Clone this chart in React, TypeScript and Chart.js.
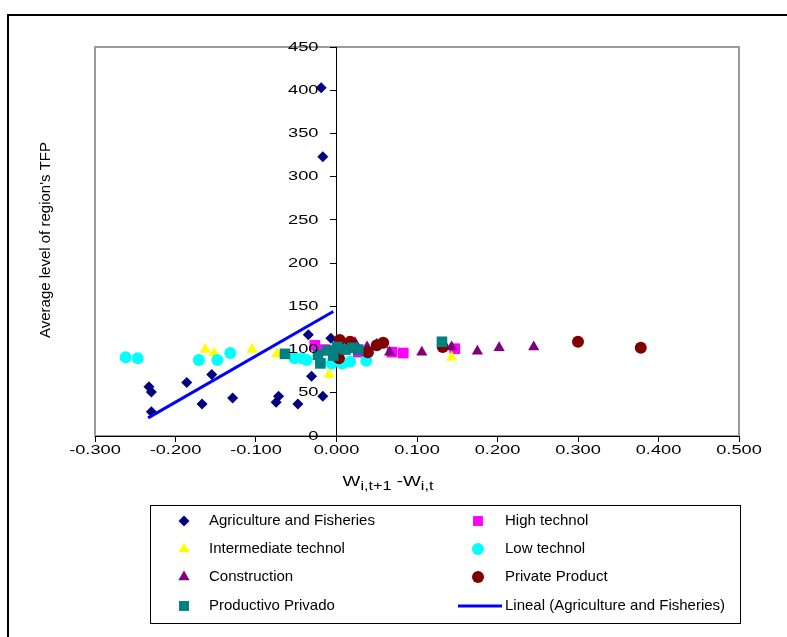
import React, { useEffect, useRef } from 'react';
import { Chart, registerables } from 'chart.js';

Chart.register(...registerables);

const W = 787;
const H = 637;
const FONT = "'Liberation Sans', Arial, sans-serif";
const STRETCH = 1.35; // horizontal stretch of the reference's axis lettering

// ---- data ----
const agriX = [-0.019, -0.017, -0.233, -0.230, -0.186, -0.155, -0.167, -0.230, -0.129, -0.072, -0.075, -0.048, -0.031, -0.017, -0.035, -0.007];
const agriY = [403, 323, 57, 51, 62, 71, 37, 28, 44, 46, 39, 37, 69, 46, 117, 113];

const highX = [-0.027, -0.014, 0.027, 0.069, 0.083, 0.147];
const highY = [105, 100, 97, 97, 96, 101];

const interX = [-0.163, -0.152, -0.105, -0.074, -0.040, -0.009, 0.143];
const interY = [100, 96, 100, 95, 87, 71, 91];

const lowX = [-0.262, -0.247, -0.171, -0.148, -0.132, -0.052, -0.043, -0.037, -0.006, 0.007, 0.017, 0.037];
const lowY = [91, 90, 88, 88, 96, 90, 90, 88, 84, 84, 86, 87];

const constX = [0.023, 0.038, 0.050, 0.066, 0.106, 0.143, 0.175, 0.202, 0.245];
const constY = [108, 103, 106, 97, 97, 103, 98, 102, 103];

const privX = [0.003, 0.004, 0.017, 0.039, 0.050, 0.058, 0.132, 0.300, 0.378];
const privY = [90, 111, 109, 97, 105, 108, 103, 109, 102];

const prodX = [-0.064, -0.023, -0.020, -0.011, -0.004, 0.001, 0.011, 0.020, 0.027, 0.131];
const prodY = [95, 94, 84, 99, 93, 103, 100, 102, 100, 109];

const trendX = [-0.234, -0.004];
const trendY = [21, 144];

const xTicks = { min: -0.3, max: 0.5, step: 0.1 };
const yTicks = { min: 0, max: 450, step: 50 };

const yTitle = "Average level of region's TFP";

const legendOrder = [
  'Agriculture and Fisheries',
  'High technol',
  'Intermediate technol',
  'Low technol',
  'Construction',
  'Private Product',
  'Productivo Privado',
  'Lineal (Agriculture and Fisheries)',
];

const pts = (xs: number[], ys: number[]) => xs.map((x, i) => ({ x, y: ys[i] }));

function drawMarker(ctx: CanvasRenderingContext2D, shape: string, x: number, y: number, r: number, color: string) {
  ctx.save();
  ctx.fillStyle = color;
  ctx.beginPath();
  if (shape === 'rectRot') {
    ctx.moveTo(x, y - r);
    ctx.lineTo(x + r, y);
    ctx.lineTo(x, y + r);
    ctx.lineTo(x - r, y);
    ctx.closePath();
  } else if (shape === 'rect') {
    const s = r * Math.SQRT1_2;
    ctx.rect(x - s, y - s, 2 * s, 2 * s);
  } else if (shape === 'triangle') {
    let a = 0;
    ctx.moveTo(x + Math.sin(a) * r, y - Math.cos(a) * r);
    a += (2 * Math.PI) / 3;
    ctx.lineTo(x + Math.sin(a) * r, y - Math.cos(a) * r);
    a += (2 * Math.PI) / 3;
    ctx.lineTo(x + Math.sin(a) * r, y - Math.cos(a) * r);
    ctx.closePath();
  } else {
    ctx.arc(x, y, r, 0, Math.PI * 2);
  }
  ctx.fill();
  ctx.restore();
}

function stretchedText(ctx: CanvasRenderingContext2D, text: string, x: number, y: number, align: CanvasTextAlign, baseline: CanvasTextBaseline) {
  ctx.save();
  ctx.translate(x, y);
  ctx.scale(STRETCH, 1);
  ctx.textAlign = align;
  ctx.textBaseline = baseline;
  ctx.fillText(text, 0, 0);
  ctx.restore();
}

const framePlugin = {
  id: 'framePlugin',
  beforeDraw(chart: any) {
    const ctx = chart.ctx as CanvasRenderingContext2D;
    const a = chart.chartArea;
    ctx.save();
    ctx.fillStyle = '#ffffff';
    ctx.fillRect(0, 0, chart.width, chart.height);
    // outer frame
    ctx.strokeStyle = '#000000';
    ctx.lineWidth = 2;
    ctx.beginPath();
    ctx.moveTo(8, H + 5);
    ctx.lineTo(8, 15);
    ctx.lineTo(W + 5, 15);
    ctx.stroke();
    // plot area border
    ctx.strokeStyle = '#9a9a9a';
    ctx.lineWidth = 2;
    ctx.strokeRect(a.left, a.top, a.right - a.left, a.bottom - a.top);
    ctx.restore();
  },
  afterDraw(chart: any) {
    const ctx = chart.ctx as CanvasRenderingContext2D;
    const a = chart.chartArea;
    const xs = chart.scales.x;
    const ys = chart.scales.y;
    ctx.save();
    ctx.fillStyle = '#000000';

    // tick labels (from the library's scales)
    ctx.font = `13.5px ${FONT}`;
    const yAxisX = xs.getPixelForValue(0);
    ys.ticks.forEach((t: any) => {
      stretchedText(ctx, String(t.value), yAxisX - 18, ys.getPixelForValue(t.value), 'right', 'middle');
    });
    const xAxisY = ys.getPixelForValue(0);
    xs.ticks.forEach((t: any) => {
      stretchedText(ctx, Number(t.value).toFixed(3), xs.getPixelForValue(t.value), xAxisY + 8, 'center', 'top');
    });

    // y title
    ctx.font = `15px ${FONT}`;
    ctx.save();
    ctx.textAlign = 'center';
    ctx.textBaseline = 'middle';
    ctx.translate(46, 240);
    ctx.rotate(-Math.PI / 2);
    ctx.fillText(yTitle, 0, 0);
    ctx.restore();

    // x title with subscripts
    const parts: [string, boolean][] = [['W', false], ['i,t+1', true], [' -W', false], ['i,t', true]];
    const big = `14px ${FONT}`;
    const small = `12px ${FONT}`;
    let total = 0;
    for (const [t, sub] of parts) {
      ctx.font = sub ? small : big;
      total += ctx.measureText(t).width * STRETCH;
    }
    let x = 388 - total / 2;
    const base = 486;
    for (const [t, sub] of parts) {
      ctx.font = sub ? small : big;
      stretchedText(ctx, t, x, sub ? base + 4 : base, 'left', 'alphabetic');
      x += ctx.measureText(t).width * STRETCH;
    }

    // legend
    const box = { x: 150, y: 505, w: 590, h: 118 };
    ctx.strokeStyle = '#000000';
    ctx.lineWidth = 1;
    ctx.strokeRect(box.x + 0.5, box.y + 0.5, box.w, box.h);
    const colMarker = [184, 478];
    const colText = [209, 505];
    const rowY = [521, 549, 577, 606];
    ctx.font = `15px ${FONT}`;
    ctx.textBaseline = 'middle';
    ctx.textAlign = 'left';
    legendOrder.forEach((label, i) => {
      const ds = chart.data.datasets.find((d: any) => d.label === label);
      if (!ds) return;
      const col = i % 2;
      const row = Math.floor(i / 2);
      const y = rowY[row];
      if (ds.showLine) {
        ctx.strokeStyle = ds.borderColor;
        ctx.lineWidth = ds.borderWidth;
        ctx.beginPath();
        ctx.moveTo(colMarker[col] - 20, y);
        ctx.lineTo(colText[col] - 3, y);
        ctx.stroke();
      } else {
        drawMarker(ctx, ds.pointStyle, colMarker[col], y, ds.legendRadius, ds.backgroundColor);
      }
      ctx.fillStyle = '#000000';
      ctx.fillText(label, colText[col], y);
    });
    ctx.restore();
  },
};

export default function App() {
  const ref = useRef<HTMLCanvasElement | null>(null);

  useEffect(() => {
    if (!ref.current) return;
    const mk = (label: string, xs: number[], ys: number[], color: string, style: string, r: number, lr: number, order: number) => ({
      label,
      data: pts(xs, ys),
      backgroundColor: color,
      borderColor: color,
      borderWidth: 0,
      pointStyle: style,
      pointRadius: r,
      pointHoverRadius: r,
      showLine: false,
      legendRadius: lr,
      order,
    });
    const chart = new Chart(ref.current, {
      type: 'scatter',
      data: {
        datasets: [
          mk('Agriculture and Fisheries', agriX, agriY, '#000080', 'rectRot', 5.5, 5.5, 7),
          mk('High technol', highX, highY, '#FF00FF', 'rect', 7.5, 7, 6),
          mk('Intermediate technol', interX, interY, '#FFFF00', 'triangle', 6.5, 6.5, 5),
          mk('Low technol', lowX, lowY, '#00FFFF', 'circle', 6, 6, 4),
          mk('Construction', constX, constY, '#800080', 'triangle', 6.5, 6.5, 3),
          mk('Private Product', privX, privY, '#800000', 'circle', 6, 6, 2),
          mk('Productivo Privado', prodX, prodY, '#008080', 'rect', 7.5, 7, 1),
          {
            label: 'Lineal (Agriculture and Fisheries)',
            data: pts(trendX, trendY),
            showLine: true,
            borderColor: '#0000FF',
            backgroundColor: '#0000FF',
            borderWidth: 3,
            pointRadius: 0,
            pointHoverRadius: 0,
            order: 0,
          } as any,
        ] as any,
      },
      options: {
        responsive: false,
        animation: false,
        devicePixelRatio: 1,
        events: [],
        layout: { padding: { left: 95, top: 47, right: 48, bottom: 201 } },
        plugins: { legend: { display: false }, tooltip: { enabled: false } },
        scales: {
          x: {
            type: 'linear',
            position: { y: 0 } as any,
            min: xTicks.min,
            max: xTicks.max,
            ticks: { stepSize: xTicks.step, display: false, autoSkip: false },
            grid: { drawOnChartArea: false, drawTicks: true, tickLength: 5, color: '#000000' },
            border: { display: true, color: '#000000', width: 1 },
          },
          y: {
            type: 'linear',
            position: { x: 0 } as any,
            min: yTicks.min,
            max: yTicks.max,
            ticks: { stepSize: yTicks.step, display: false, autoSkip: false },
            grid: { drawOnChartArea: false, drawTicks: true, tickLength: 6, color: '#000000' },
            border: { display: true, color: '#000000', width: 1 },
          },
        },
      } as any,
      plugins: [framePlugin],
    });
    return () => chart.destroy();
  }, []);

  return (
    <div style={{ position: 'fixed', left: 0, top: 0, width: W, height: H, background: '#fff' }}>
      <canvas ref={ref} width={W} height={H} style={{ display: 'block', width: W, height: H }} />
    </div>
  );
}
